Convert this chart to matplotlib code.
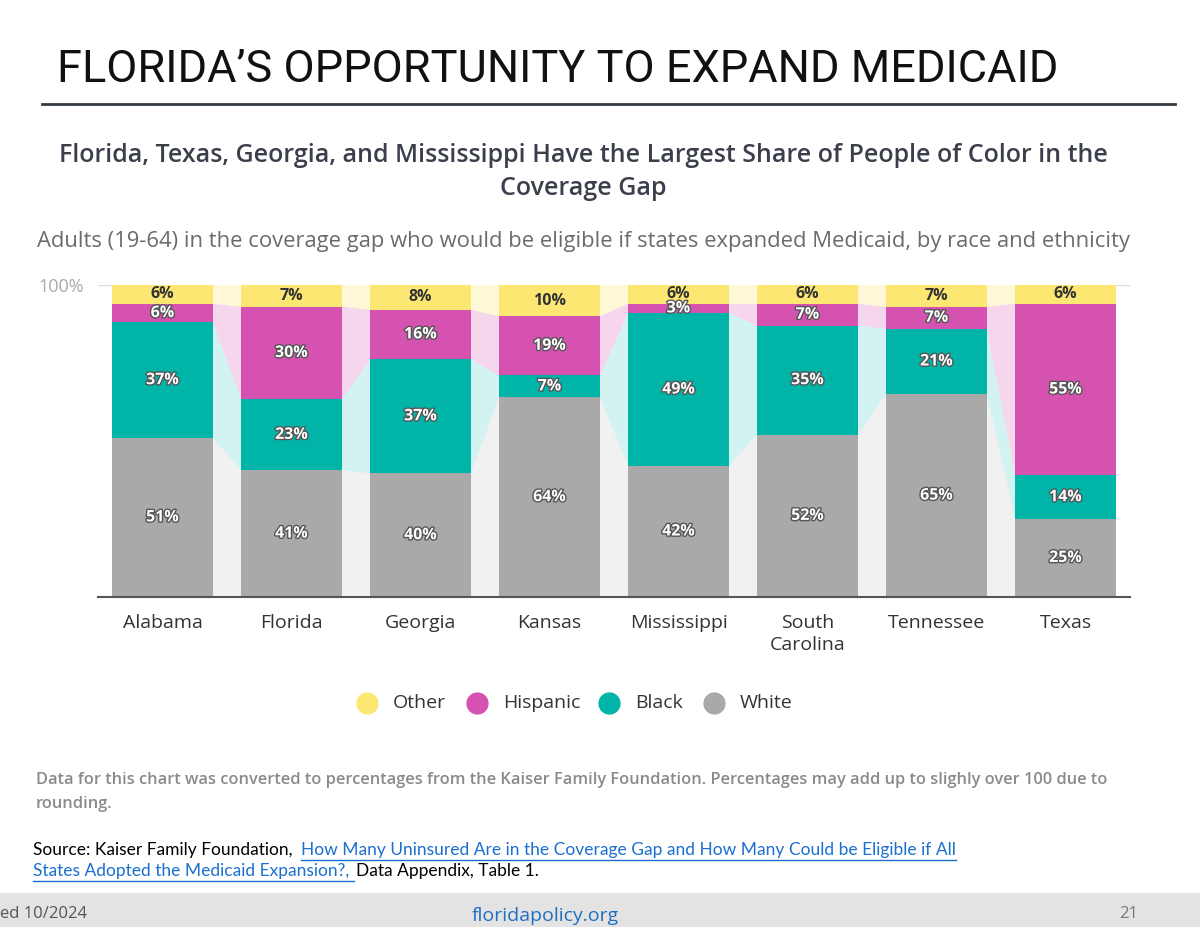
import numpy as np
import matplotlib.pyplot as plt
from matplotlib.lines import Line2D
from matplotlib.patches import Rectangle
import matplotlib.patheffects as pe

plt.rcParams['font.family'] = ['Open Sans', 'DejaVu Sans']

states = ['Alabama', 'Florida', 'Georgia', 'Kansas', 'Mississippi', 'South\nCarolina', 'Tennessee', 'Texas']
white = [51, 41, 40, 64, 42, 52, 65, 25]
black = [37, 23, 37, 7, 49, 35, 21, 14]
hispanic = [6, 30, 16, 19, 3, 7, 7, 55]
other = [6, 7, 8, 10, 6, 6, 7, 6]
series = ['White', 'Black', 'Hispanic', 'Other']
colors = ['#a9a9a9', '#00b5a8', '#d652b1', '#fde773']
light = ['#f0f0f0', '#d2f3f1', '#f6d6ec', '#fff8d6']

W, H = 1200, 927
fig = plt.figure(figsize=(W / 100, H / 100), dpi=100)

def fx(x): return x / W
def fy(y): return 1 - y / H

# header
fig.text(fx(57), fy(70), 'FLORIDA\u2019S OPPORTUNITY TO EXPAND MEDICAID', fontsize=32.5,
         family='Roboto', va='center', ha='left', color='#111111')
fig.add_artist(Line2D([fx(42), fx(1175)], [fy(104), fy(104)], color='#333a45', lw=2))
fig.text(fx(583), fy(172), 'Florida, Texas, Georgia, and Mississippi Have the Largest Share of People of Color in the\nCoverage Gap',
         fontsize=18, ha='center', va='center', color='#3b3f4c', fontweight='semibold', linespacing=1.4)
fig.text(fx(583), fy(241), 'Adults (19-64) in the coverage gap who would be eligible if states expanded Medicaid, by race and ethnicity',
         fontsize=15.8, ha='center', va='center', color='#6b6b6b')

ax = fig.add_axes([fx(98), fy(597), (1130 - 98) / W, 312 / H])
data = np.array([white, black, hispanic, other], dtype=float)
norm = data / data.sum(axis=0) * 100
bottoms = np.vstack([np.zeros(len(states)), np.cumsum(norm, axis=0)[:-1]])
x = np.arange(len(states))
bw = 0.78

# gaps background and connectors
for i in range(len(states) - 1):
    ax.add_patch(Rectangle((i + bw / 2, 0), 1 - bw, 100, color='#f1f1f1', lw=0, zorder=0))
    for k in range(1, 4):
        b0, t0 = bottoms[k, i], bottoms[k, i] + norm[k, i]
        b1, t1 = bottoms[k, i + 1], bottoms[k, i + 1] + norm[k, i + 1]
        ax.fill([i + bw / 2, i + 1 - bw / 2, i + 1 - bw / 2, i + bw / 2], [b0, b1, t1, t0],
                color=light[k], lw=0, zorder=1)

for k in range(4):
    ax.bar(x, norm[k], bw, bottom=bottoms[k], color=colors[k], zorder=2, label=series[k])
    for i in range(len(states)):
        y = bottoms[k, i] + norm[k, i] / 2
        if k == 3:
            ax.text(i, y, f'{data[k, i]:.0f}%', ha='center', va='center', fontsize=11.5,
                    fontweight='bold', color='#333333', zorder=3)
        else:
            ax.text(i, y, f'{data[k, i]:.0f}%', ha='center', va='center', fontsize=11.5,
                    fontweight='bold', color='white', zorder=3,
                    path_effects=[pe.withStroke(linewidth=2, foreground='#555555')])

ax.set_xlim(-0.5, len(states) - 0.5)
ax.set_ylim(0, 100)
ax.set_yticks([100])
ax.set_yticklabels(['100%'], color='#aaaaaa', fontsize=13)
ax.tick_params(axis='y', length=0, pad=10)
ax.set_xticks(x)
ax.set_xticklabels(states, fontsize=14, color='#333333', linespacing=1.3, va='top')
ax.tick_params(axis='x', length=0, pad=12)
ax.axhline(100, color='#dddddd', lw=1, zorder=0)
for s in ['top', 'right', 'left']:
    ax.spines[s].set_visible(False)
ax.spines['bottom'].set_color('#555555')
ax.spines['bottom'].set_linewidth(1.5)
ax.set_facecolor('none')

# legend
leg_items = [('Other', colors[3], 367), ('Hispanic', colors[2], 477), ('Black', colors[1], 609), ('White', colors[0], 714)]
for name, c, px in leg_items:
    fig.add_artist(Line2D([fx(px)], [fy(703)], marker='o', markersize=15, color=c, lw=0))
    fig.text(fx(px + 26), fy(703), name, fontsize=14, va='center', color='#333333')

fig.text(fx(36), fy(792), 'Data for this chart was converted to percentages from the Kaiser Family Foundation. Percentages may add up to slighly over 100 due to\nrounding.',
         fontsize=11.8, va='center', color='#8a8a8a', fontweight='semibold', linespacing=1.6)

# source, pieces chained by measured width
link = '#1a6fd0'
renderer = fig.canvas.get_renderer()

def piece(px, py, s, color='black', underline=False):
    t = fig.text(fx(px), fy(py), s, fontsize=12.5, va='center', color=color, family='Lato')
    bb = t.get_window_extent(renderer)
    if underline:
        fig.add_artist(Line2D([bb.x0 / W, bb.x1 / W], [fy(py + 10)] * 2, color=color, lw=1))
    return bb.x1

end = piece(33, 850, 'Source: Kaiser Family Foundation, ')
piece(end + 4, 850, 'How Many Uninsured Are in the Coverage Gap and How Many Could be Eligible if All', link, True)
end = piece(33, 871, 'States Adopted the Medicaid Expansion?, ', link, True)
piece(end + 2, 871, 'Data Appendix, Table 1.')

# footer
fig.add_artist(Rectangle((0, 0), 1, 34 / H, transform=fig.transFigure, color='#e3e3e3', lw=0))
fig.text(fx(0), fy(914), 'ed 10/2024', fontsize=12, va='center', color='#555555')
fig.text(fx(545), fy(916), 'floridapolicy.org', fontsize=14, va='center', ha='center', color='#1f6fc0')
fig.text(fx(1138), fy(914), '21', fontsize=12, va='center', ha='right', color='#777777')

fig.savefig('out.png', dpi=100)
